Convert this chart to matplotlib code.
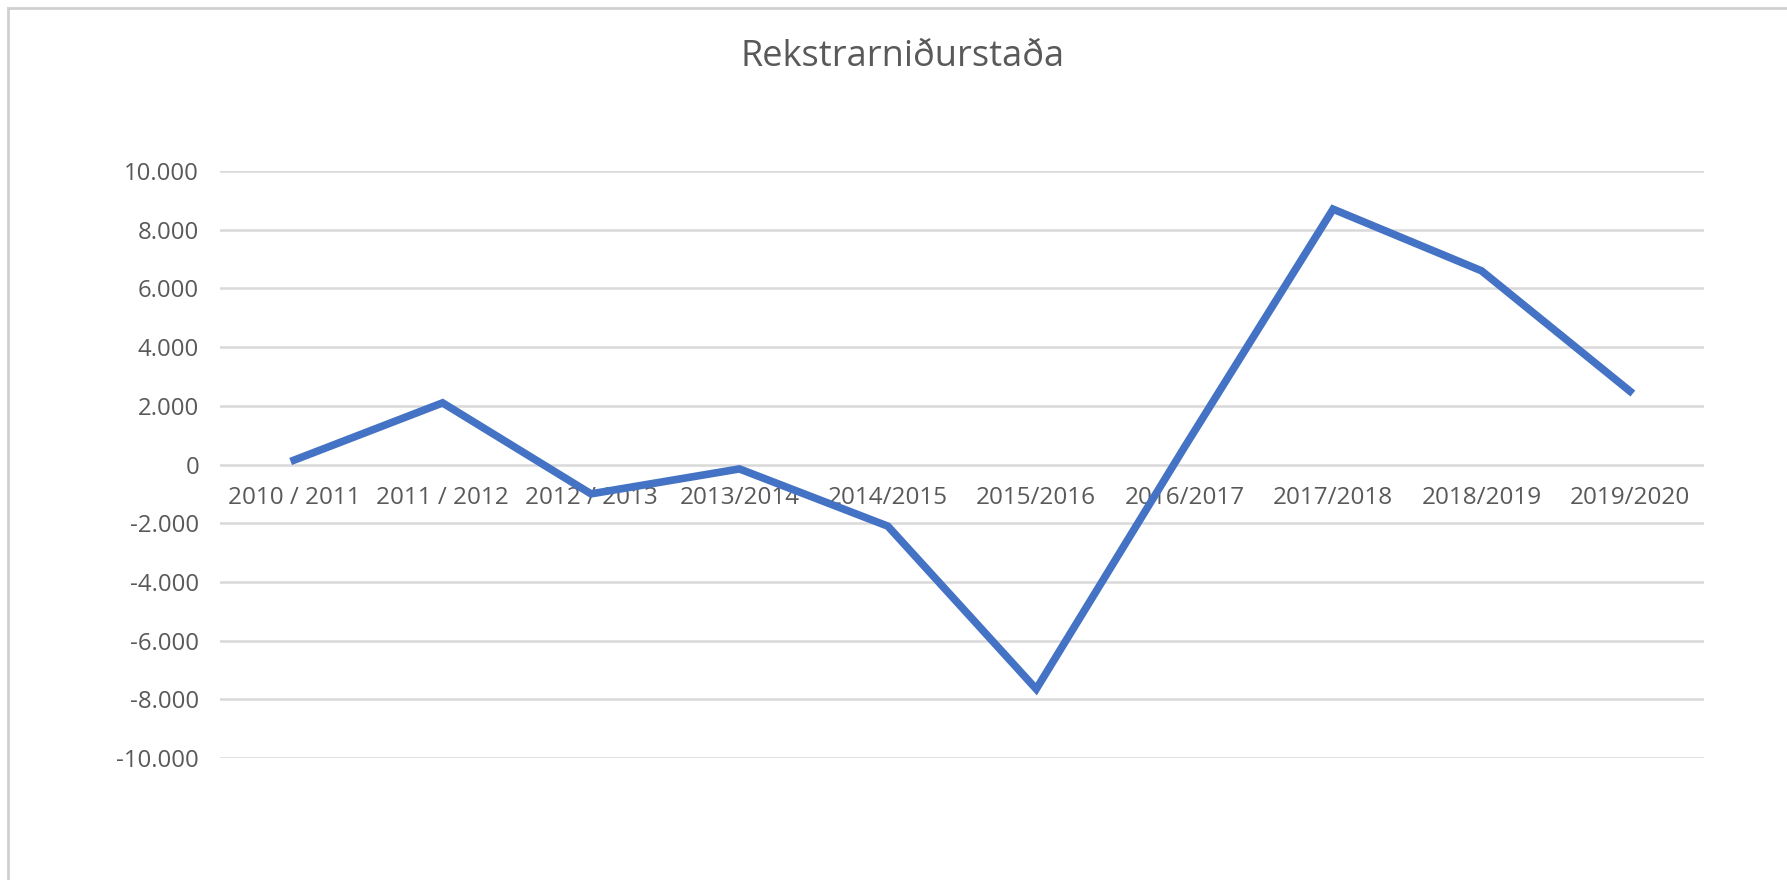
import numpy as np
import matplotlib.pyplot as plt
from matplotlib.lines import Line2D

# ---------- Data ----------
seasons = ["2010 / 2011", "2011 / 2012", "2012 / 2013", "2013/2014", "2014/2015",
           "2015/2016", "2016/2017", "2017/2018", "2018/2019", "2019/2020"]
result = [150, 2100, -1000, -150, -2100, -7650, 600, 8700, 6600, 2500]
yticks = [-10000, -8000, -6000, -4000, -2000, 0, 2000, 4000, 6000, 8000, 10000]

txt_col = "#595959"
grid_col = "#D9D9D9"
line_col = "#4472C4"
plt.rcParams['font.family'] = ['Open Sans', 'DejaVu Sans']

fig = plt.figure(figsize=(17.87, 8.80), dpi=100)
ax = fig.add_axes([0.1231, 0.1386, 0.9536 - 0.1231, 0.8057 - 0.1386])

x = np.arange(len(seasons))
ax.plot(x, result, color=line_col, lw=5.5, solid_joinstyle='miter', zorder=3)

ax.set_xlim(-0.5, len(seasons) - 0.5)
ax.set_ylim(yticks[0], yticks[-1])
ax.set_yticks(yticks)
ax.set_yticklabels([f"{v:,.0f}".replace(",", ".") for v in yticks])
ax.set_xticks([])
ax.tick_params(axis='y', length=0, pad=15, labelsize=17.3, labelcolor=txt_col)
for v in yticks:
    ax.axhline(v, color=grid_col, lw=1.8, zorder=1)
for s in ax.spines.values():
    s.set_visible(False)

# category labels sit just under the zero line (Excel style)
for i, lbl in enumerate(seasons):
    ax.annotate(lbl, (i, 0), xytext=(0, -24), textcoords='offset points',
                ha='center', va='center', fontsize=17.5, color=txt_col, zorder=2)

fig.text(0.505, 0.935, "Rekstrarniðurstaða", ha='center', va='center',
         fontsize=26, color=txt_col)

# chart area border (only top and left visible)
fig.add_artist(Line2D([8 / 1787, 1], [1 - 8 / 880, 1 - 8 / 880], color="#D0D0D0", lw=2))
fig.add_artist(Line2D([8 / 1787, 8 / 1787], [0, 1 - 8 / 880], color="#D0D0D0", lw=2))

fig.savefig("out.png", dpi=100)
